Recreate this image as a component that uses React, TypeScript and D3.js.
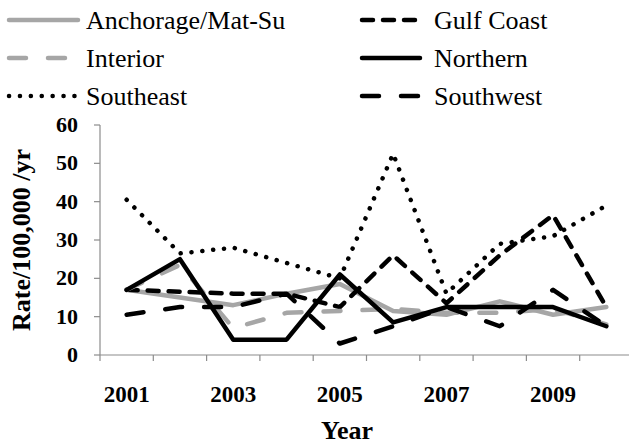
import React from 'react';
import * as d3 from 'd3';

const years = ['2001', '2002', '2003', '2004', '2005', '2006', '2007', '2008', '2009', '2010'];
const yTicks = [0, 10, 20, 30, 40, 50, 60];
const xLabels = ['2001', '2003', '2005', '2007', '2009'];

const anchorage = [17, 15, 13, 16, 18.5, 11.5, 10.5, 14, 10.5, 12.5];
const gulfCoast = [17, 16.5, 16, 16, 12.5, 26, 13.5, 26, 36.5, 12.5];
const interior = [17, 23.5, 7, 11, 11.5, 12, 11, 11, 12, 8];
const northern = [17, 25, 4, 4, 21, 8.5, 12.5, 12.5, 12.5, 7.5];
const southeast = [40.5, 26.5, 28, 24, 20, 52.5, 16, 29, 31, 39];
const southwest = [10.5, 12.5, 12.5, 16, 3, 7.5, 12.5, 7.5, 17, 7.5];

const GRAY = '#a6a6a6';
const AXIS = '#8c8c8c';

const series = [
  { name: 'Anchorage/Mat-Su', values: anchorage, color: GRAY, dash: 'none' },
  { name: 'Gulf Coast', values: gulfCoast, color: '#000', dash: '11 10' },
  { name: 'Interior', values: interior, color: GRAY, dash: '17 22' },
  { name: 'Northern', values: northern, color: '#000', dash: 'none' },
  { name: 'Southeast', values: southeast, color: '#000', dash: '0.1 10.8' },
  { name: 'Southwest', values: southwest, color: '#000', dash: '17 22' },
];

export default function App() {
  const width = 629;
  const height = 444;
  const left = 100;
  const bottom = 355;
  const top = 125;

  const x = d3.scaleBand().domain(years).range([left, 633]);
  const y = d3.scaleLinear().domain([0, 60]).range([bottom, top]);

  const line = d3
    .line<number>()
    .x((_, i) => x(years[i])! + x.bandwidth() / 2)
    .y(d => y(d));

  const font = "'Liberation Serif', 'Times New Roman', Times, serif";
  const legendPos = [
    { lx: 7, lw: 73, tx: 86 },
    { lx: 360, lw: 62, tx: 434 },
  ];
  const rowY = [20, 58, 96];

  return (
    <svg
      width={width}
      height={height}
      style={{ position: 'absolute', left: 0, top: 0, fontFamily: font }}
    >
      {/* legend */}
      {series.map((s, i) => {
        const p = legendPos[i % 2];
        const ry = rowY[Math.floor(i / 2)];
        return (
          <g key={s.name}>
            <line
              x1={p.lx + 2}
              x2={p.lx + p.lw - 2}
              y1={ry}
              y2={ry}
              stroke={s.color}
              strokeWidth={4.5}
              strokeLinecap="round"
              strokeDasharray={s.dash}
            />
            <text x={p.tx} y={ry + 9} fontSize={26}>
              {s.name}
            </text>
          </g>
        );
      })}

      {/* y axis */}
      <line x1={left} x2={left} y1={top} y2={bottom} stroke={AXIS} strokeWidth={1.2} />
      {yTicks.map(t => (
        <g key={t}>
          <line x1={left - 6} x2={left} y1={y(t)} y2={y(t)} stroke={AXIS} strokeWidth={1.2} />
          <text x={78} y={y(t) + 7} textAnchor="end" fontSize={22} fontWeight="bold">
            {t}
          </text>
        </g>
      ))}

      {/* x axis */}
      <line x1={left} x2={633} y1={bottom} y2={bottom} stroke={AXIS} strokeWidth={1.2} />
      {years.map(yr => (
        <line
          key={yr}
          x1={x(yr)!}
          x2={x(yr)!}
          y1={bottom}
          y2={bottom + 6}
          stroke={AXIS}
          strokeWidth={1.2}
        />
      ))}
      {xLabels.map(l => (
        <text
          key={l}
          x={x(l)! + x.bandwidth() / 2}
          y={402}
          textAnchor="middle"
          fontSize={23}
          fontWeight="bold"
        >
          {l}
        </text>
      ))}

      <text x={347} y={439} textAnchor="middle" fontSize={26} fontWeight="bold">
        Year
      </text>
      <text
        transform={`translate(30,${(top + bottom) / 2}) rotate(-90)`}
        textAnchor="middle"
        fontSize={26}
        fontWeight="bold"
      >
        Rate/100,000 /yr
      </text>

      {/* series */}
      {series.map(s => (
        <path
          key={s.name}
          d={line(s.values) || ''}
          fill="none"
          stroke={s.color}
          strokeWidth={4.5}
          strokeLinecap="round"
          strokeLinejoin="round"
          strokeDasharray={s.dash}
        />
      ))}
    </svg>
  );
}
